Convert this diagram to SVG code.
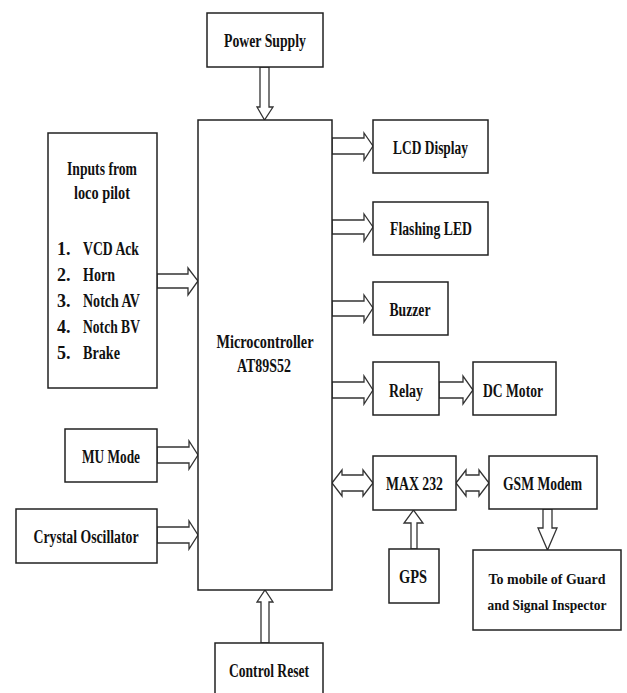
<svg xmlns="http://www.w3.org/2000/svg" width="627" height="693" viewBox="0 0 627 693">
<style>
.box{fill:#fff;stroke:#222;stroke-width:1.5}
.arr{fill:#fff;stroke:#333;stroke-width:1.3;stroke-linejoin:miter}
text{font-family:"Liberation Serif","Times New Roman",serif;font-weight:bold;font-size:18px;fill:#111}
.c{text-anchor:middle}
.s{font-size:15px}
</style>
<rect width="627" height="693" fill="#fff"/>
<g id="connectors">
<polygon class="arr" points="260,67 260,107 257,107 264.5,120 273,107 269,107 269,67"/>
<polygon class="arr" points="157,274 188,274 188,268 198,281 188,295 188,288 157,288"/>
<polygon class="arr" points="157,447 189,447 189,441 198,455 189,469 189,463 157,463"/>
<polygon class="arr" points="157,527 189,527 189,521 198,535 189,549 189,543 157,543"/>
<polygon class="arr" points="332,138 364,138 364,133 373,146 364,160 364,154 332,154"/>
<polygon class="arr" points="332,220 364,220 364,214 373,227 364,241 364,234 332,234"/>
<polygon class="arr" points="332,301 364,301 364,295 373,308 364,322 364,316 332,316"/>
<polygon class="arr" points="332,382 364,382 364,376 373,390 364,404 364,398 332,398"/>
<polygon class="arr" points="439,382 463,382 463,376 473,390 463,404 463,398 439,398"/>
<polygon class="arr" points="332,483 342,470 342,475 363,475 363,470 373,483 363,496 363,491 342,491 342,496"/>
<polygon class="arr" points="456,483 466,470 466,475 479,475 479,470 489,483 479,496 479,491 466,491 466,496"/>
<polygon class="arr" points="411,549 411,523 404,523 413.5,510 423,523 417,523 417,549"/>
<polygon class="arr" points="543,509 543,528 538,528 547.5,550 557,528 552,528 552,509"/>
<polygon class="arr" points="261,643 261,602 257,602 265,590 273,602 269,602 269,643"/>
</g>
<g id="power-supply"><rect class="box" x="207" y="13" width="116" height="54"/><text class="c" x="265" y="47" textLength="82" lengthAdjust="spacingAndGlyphs">Power Supply</text></g>
<g id="microcontroller"><rect class="box" x="198" y="120" width="134" height="470"/><text class="c" x="265" y="348" textLength="97" lengthAdjust="spacingAndGlyphs">Microcontroller</text><text class="c" x="264" y="372" textLength="54" lengthAdjust="spacingAndGlyphs">AT89S52</text></g>
<g id="inputs"><rect class="box" x="48" y="133" width="109" height="255"/>
<text class="c" x="102" y="175" textLength="70" lengthAdjust="spacingAndGlyphs">Inputs from</text>
<text class="c" x="102" y="199" textLength="56" lengthAdjust="spacingAndGlyphs">loco pilot</text>
<text x="57" y="255">1.</text><text x="83" y="255" textLength="56" lengthAdjust="spacingAndGlyphs">VCD Ack</text>
<text x="57" y="281">2.</text><text x="83" y="281" textLength="32" lengthAdjust="spacingAndGlyphs">Horn</text>
<text x="57" y="307">3.</text><text x="83" y="307" textLength="57" lengthAdjust="spacingAndGlyphs">Notch AV</text>
<text x="57" y="333">4.</text><text x="83" y="333" textLength="57" lengthAdjust="spacingAndGlyphs">Notch BV</text>
<text x="57" y="359">5.</text><text x="83" y="359" textLength="37" lengthAdjust="spacingAndGlyphs">Brake</text></g>
<g id="mu-mode"><rect class="box" x="65" y="429" width="92" height="53"/><text class="c" x="111" y="463" textLength="58" lengthAdjust="spacingAndGlyphs">MU Mode</text></g>
<g id="crystal"><rect class="box" x="16" y="509" width="141" height="54"/><text class="c" x="86" y="543" textLength="105" lengthAdjust="spacingAndGlyphs">Crystal Oscillator</text></g>
<g id="lcd"><rect class="box" x="373" y="120" width="115" height="53"/><text class="c" x="430.5" y="154" textLength="75" lengthAdjust="spacingAndGlyphs">LCD Display</text></g>
<g id="flashing-led"><rect class="box" x="373" y="202" width="115" height="53"/><text class="c" x="431" y="235" textLength="82" lengthAdjust="spacingAndGlyphs">Flashing LED</text></g>
<g id="buzzer"><rect class="box" x="373" y="282" width="75" height="53"/><text class="c" x="410" y="316" textLength="41" lengthAdjust="spacingAndGlyphs">Buzzer</text></g>
<g id="relay"><rect class="box" x="373" y="362" width="66" height="53"/><text class="c" x="406" y="397" textLength="34" lengthAdjust="spacingAndGlyphs">Relay</text></g>
<g id="dc-motor"><rect class="box" x="473" y="362" width="83" height="53"/><text class="c" x="513" y="397" textLength="60" lengthAdjust="spacingAndGlyphs">DC Motor</text></g>
<g id="max232"><rect class="box" x="373" y="456" width="83" height="54"/><text class="c" x="414.5" y="490" textLength="57" lengthAdjust="spacingAndGlyphs">MAX 232</text></g>
<g id="gsm"><rect class="box" x="489" y="456" width="108" height="53"/><text class="c" x="542.5" y="490" textLength="79" lengthAdjust="spacingAndGlyphs">GSM Modem</text></g>
<g id="gps"><rect class="box" x="389" y="549" width="50" height="54"/><text class="c" x="413" y="583" textLength="28" lengthAdjust="spacingAndGlyphs">GPS</text></g>
<g id="to-mobile"><rect class="box" x="473" y="550" width="148" height="80"/><text class="c s" x="547" y="584" textLength="117" lengthAdjust="spacingAndGlyphs">To mobile of Guard</text><text class="c s" x="547" y="610" textLength="119" lengthAdjust="spacingAndGlyphs">and Signal Inspector</text></g>
<g id="control-reset"><rect class="box" x="215" y="643" width="108" height="60"/><text class="c" x="269" y="677" textLength="80" lengthAdjust="spacingAndGlyphs">Control Reset</text></g>
</svg>
